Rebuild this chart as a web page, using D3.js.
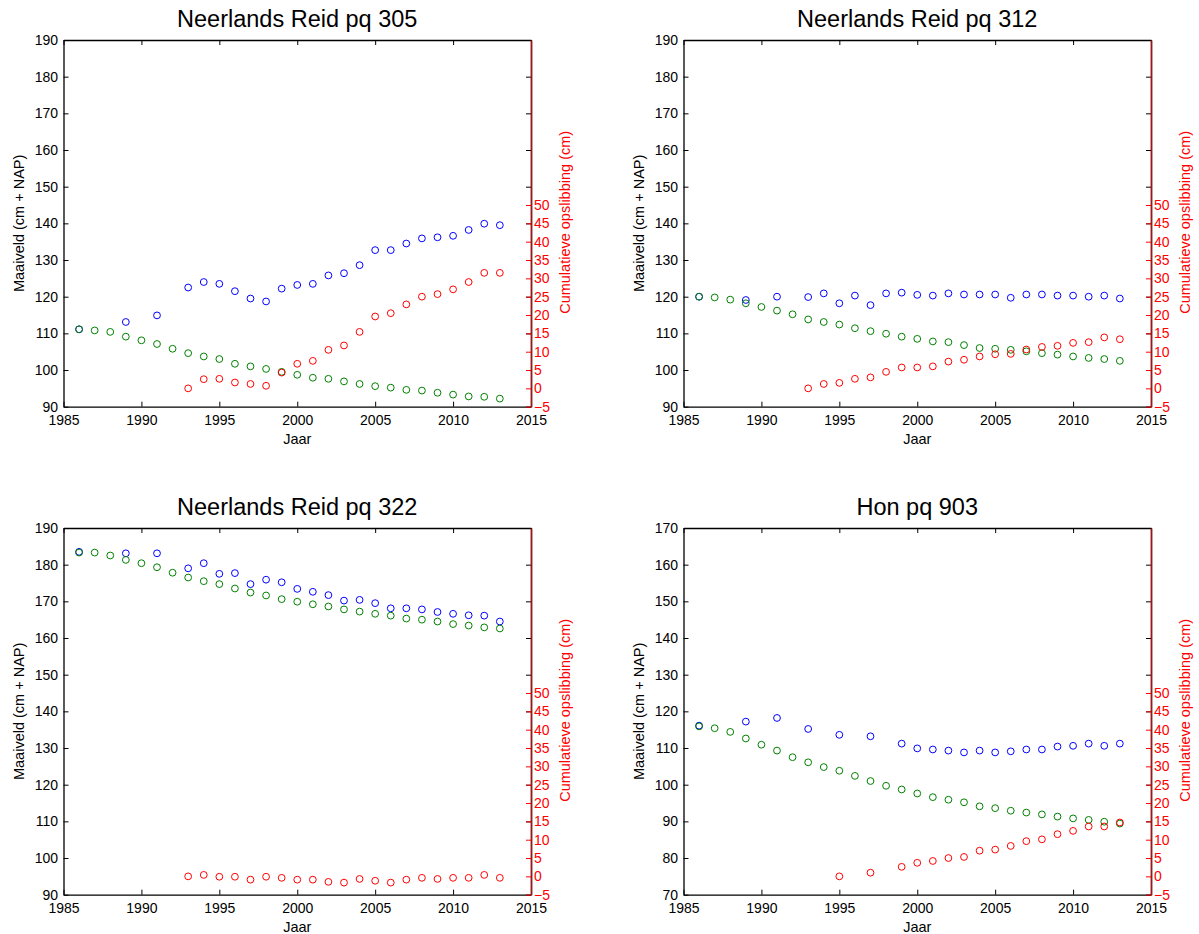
<!DOCTYPE html>
<html>
<head>
<meta charset="utf-8">
<script src="https://cdnjs.cloudflare.com/ajax/libs/d3/7.8.5/d3.min.js"></script>
<style>
  html, body { margin: 0; padding: 0; background: #ffffff; }
  svg { display: block; font-family: "Liberation Sans", Arial, Helvetica, sans-serif; }
</style>
</head>
<body>
<svg id="chart" width="1199" height="934"></svg>
<script>
// ---------- DATA ----------
const titles = ["Neerlands Reid pq 305", "Neerlands Reid pq 312", "Neerlands Reid pq 322", "Hon pq 903"];
const xTicks = [1985, 1990, 1995, 2000, 2005, 2010, 2015];
const leftTicksA = [90, 100, 110, 120, 130, 140, 150, 160, 170, 180, 190];
const leftTicksB = [70, 80, 90, 100, 110, 120, 130, 140, 150, 160, 170];
const rightTicks = [-5, 0, 5, 10, 15, 20, 25, 30, 35, 40, 45, 50];

const greenYears = [1986, 1987, 1988, 1989, 1990, 1991, 1992, 1993, 1994, 1995, 1996, 1997, 1998, 1999,
                    2000, 2001, 2002, 2003, 2004, 2005, 2006, 2007, 2008, 2009, 2010, 2011, 2012, 2013];
const blueYears = [1986, 1989, 1991, 1993, 1994, 1995, 1996, 1997, 1998, 1999, 2000, 2001, 2002,
                   2003, 2004, 2005, 2006, 2007, 2008, 2009, 2010, 2011, 2012, 2013];
const redYears = [1993, 1994, 1995, 1996, 1997, 1998, 1999, 2000, 2001, 2002, 2003, 2004, 2005,
                  2006, 2007, 2008, 2009, 2010, 2011, 2012, 2013];
const blueYears903 = [1986, 1989, 1991, 1993, 1995, 1997, 1999, 2000, 2001, 2002, 2003, 2004, 2005,
                      2006, 2007, 2008, 2009, 2010, 2011, 2012, 2013];
const redYears903 = [1995, 1997, 1999, 2000, 2001, 2002, 2003, 2004, 2005, 2006, 2007, 2008, 2009,
                     2010, 2011, 2012, 2013];

// pq 305
const blue305 = [111.1, 113.1, 114.9, 122.5, 124.0, 123.5, 121.5, 119.5, 118.7, 122.2, 123.2, 123.5,
                 125.8, 126.4, 128.6, 132.7, 132.7, 134.5, 135.9, 136.2, 136.6, 138.2, 139.9, 139.5];
const green305 = [111.1, 110.8, 110.4, 109.1, 108.1, 107.1, 105.8, 104.6, 103.7, 103.0, 101.7, 101.0,
                  100.3, 99.5, 98.7, 97.9, 97.6, 96.9, 96.2, 95.6, 95.2, 94.6, 94.4, 93.8, 93.3, 92.8, 92.7, 92.2];
const red305 = [0, 2.5, 2.6, 1.6, 1.2, 0.7, 4.3, 6.7, 7.5, 10.5, 11.7, 15.4, 19.6, 20.5, 22.9, 25.0,
                25.7, 27.0, 29.0, 31.5, 31.5];
// pq 312
const blue312 = [120.0, 119.1, 120.0, 119.9, 120.9, 118.2, 120.3, 117.7, 120.9, 121.1, 120.5, 120.3,
                 120.9, 120.6, 120.6, 120.6, 119.7, 120.6, 120.6, 120.3, 120.3, 120.0, 120.3, 119.5];
const green312 = [120.0, 119.8, 119.2, 118.2, 117.2, 116.2, 115.2, 113.8, 113.1, 112.4, 111.4, 110.6,
                  109.9, 109.1, 108.5, 107.8, 107.6, 106.8, 106.0, 105.8, 105.5, 105.1, 104.6, 104.2,
                  103.7, 103.3, 103.0, 102.5];
const red312 = [0, 1.2, 1.5, 2.6, 3.0, 4.5, 5.7, 5.7, 6.0, 7.3, 7.8, 8.7, 9.3, 9.4, 10.6, 11.3, 11.6,
                12.4, 12.6, 13.9, 13.4];
// pq 322
const blue322 = [183.5, 183.1, 183.1, 179.0, 180.4, 177.5, 177.7, 174.7, 175.9, 175.2, 173.4, 172.6,
                 171.7, 170.2, 170.4, 169.5, 168.1, 168.1, 167.8, 167.1, 166.6, 166.2, 166.1, 164.5];
const green322 = [183.3, 183.3, 182.5, 181.3, 180.4, 179.3, 177.8, 176.5, 175.5, 174.7, 173.5, 172.4,
                  171.6, 170.6, 169.9, 169.2, 168.6, 167.8, 167.2, 166.6, 166.1, 165.3, 165.0, 164.5,
                  163.8, 163.4, 162.9, 162.6];
const red322 = [0, 0.4, -0.1, -0.1, -0.9, -0.1, -0.4, -0.9, -0.9, -1.5, -1.7, -0.7, -1.2, -1.7, -0.9,
                -0.4, -0.7, -0.4, -0.4, 0.4, -0.4];
// pq 903
const blue903 = [116.1, 117.2, 118.2, 115.2, 113.6, 113.2, 111.2, 109.9, 109.6, 109.3, 108.8, 109.3,
                 108.8, 109.1, 109.6, 109.6, 110.4, 110.6, 111.2, 110.6, 111.2];
const green903 = [115.9, 115.4, 114.4, 112.6, 110.9, 109.3, 107.5, 106.1, 104.8, 103.8, 102.4, 101.0,
                  99.7, 98.7, 97.6, 96.6, 95.9, 95.2, 94.1, 93.6, 92.9, 92.4, 91.9, 91.3, 90.8, 90.4, 89.9, 89.4];
const red903 = [0, 1.0, 2.6, 3.7, 4.2, 5.0, 5.3, 7.0, 7.3, 8.3, 9.6, 10.1, 11.5, 12.4, 13.6, 13.6, 14.7];

const leftLabel = "Maaiveld (cm + NAP)";
const rightLabel = "Cumulatieve opslibbing (cm)";
const xLabel = "Jaar";

// ---------- PANELS ----------
const panels = [
  { title: titles[0], lt: leftTicksA, by: blueYears, b: blue305, g: green305, ry: redYears, r: red305, col: 0, row: 0 },
  { title: titles[1], lt: leftTicksA, by: blueYears, b: blue312, g: green312, ry: redYears, r: red312, col: 1, row: 0 },
  { title: titles[2], lt: leftTicksA, by: blueYears, b: blue322, g: green322, ry: redYears, r: red322, col: 0, row: 1 },
  { title: titles[3], lt: leftTicksB, by: blueYears903, b: blue903, g: green903, ry: redYears903, r: red903, col: 1, row: 1 }
];

const svg = d3.select("#chart");
svg.append("rect").attr("width", 1199).attr("height", 934).attr("fill", "#fff");

const plotLefts = [63.5, 683.5];
const plotTops = [40, 528];
const W = 467.5, H = 366.7;
const TL = 5;
const FS_TICK = 14, FS_LAB = 14.5, FS_TITLE = 23.5;
const RED = "#ff0000", DARKRED = "#a31515";

panels.forEach(p => {
  const x0 = plotLefts[p.col], y0 = plotTops[p.row];
  const g = svg.append("g").attr("transform", `translate(${x0},${y0})`);
  const x = d3.scaleLinear().domain([1985, 2015]).range([0, W]);
  const yL = d3.scaleLinear().domain([p.lt[0], p.lt[p.lt.length - 1]]).range([H, 0]);
  const yR = d3.scaleLinear().domain([-5, 95]).range([H, 0]);

  // bottom axis
  const bottom = g.append("g").attr("transform", `translate(0,${H})`)
    .call(d3.axisBottom(x).tickValues(xTicks).tickFormat(d3.format("d")).tickSizeInner(-TL).tickSizeOuter(0).tickPadding(6));
  // top ticks
  const top = g.append("g")
    .call(d3.axisTop(x).tickValues(xTicks).tickFormat("").tickSizeInner(-TL).tickSizeOuter(0));
  // left axis
  const left = g.append("g")
    .call(d3.axisLeft(yL).tickValues(p.lt).tickFormat(d3.format("d")).tickSizeInner(-TL).tickSizeOuter(0).tickPadding(5.5));
  // right-side black ticks of left axis
  const rightBlack = g.append("g").attr("transform", `translate(${W},0)`)
    .call(d3.axisRight(yL).tickValues(p.lt).tickFormat("").tickSizeInner(-TL).tickSizeOuter(0));
  // right red axis
  const right = g.append("g").attr("transform", `translate(${W},0)`)
    .call(d3.axisRight(yR).tickValues(rightTicks).tickFormat(d3.format("d")).tickSizeInner(-TL).tickSizeOuter(0).tickPadding(3));

  [bottom, top, left, rightBlack].forEach(a => {
    a.selectAll(".domain").attr("stroke", "#000").attr("stroke-width", 1.3);
    a.selectAll(".tick line").attr("stroke", "#000").attr("stroke-width", 1);
    a.selectAll("text").attr("fill", "#000").attr("font-size", FS_TICK).attr("font-family", "Liberation Sans, Arial, sans-serif");
  });
  bottom.selectAll("text").attr("dy", "0").attr("y", 18);
  right.selectAll(".domain").attr("stroke", DARKRED).attr("stroke-width", 1.6);
  right.selectAll(".tick line").attr("stroke", RED).attr("stroke-width", 1);
  right.selectAll("text").attr("fill", RED).attr("font-size", FS_TICK).attr("font-family", "Liberation Sans, Arial, sans-serif");

  // markers
  const r = 3.4;
  g.append("g").selectAll("circle").data(p.by.map((yr, i) => [yr, p.b[i]])).join("circle")
    .attr("cx", d => x(d[0])).attr("cy", d => yL(d[1])).attr("r", r)
    .attr("fill", "none").attr("stroke", "#0000ff").attr("stroke-width", 1);
  g.append("g").selectAll("circle").data(greenYears.map((yr, i) => [yr, p.g[i]])).join("circle")
    .attr("cx", d => x(d[0])).attr("cy", d => yL(d[1])).attr("r", r)
    .attr("fill", "none").attr("stroke", "#008000").attr("stroke-width", 1);
  g.append("g").selectAll("circle").data(p.ry.map((yr, i) => [yr, p.r[i]])).join("circle")
    .attr("cx", d => x(d[0])).attr("cy", d => yR(d[1])).attr("r", r)
    .attr("fill", "none").attr("stroke", RED).attr("stroke-width", 1);

  // title
  g.append("text").attr("x", W / 2).attr("y", -13).attr("text-anchor", "middle")
    .attr("font-size", FS_TITLE).attr("fill", "#000").text(p.title);
  // x label
  g.append("text").attr("x", W / 2).attr("y", H + 37).attr("text-anchor", "middle")
    .attr("font-size", FS_LAB).attr("fill", "#000").text(xLabel);
  // left label
  g.append("text").attr("transform", `translate(-39.5,${H / 2}) rotate(-90)`).attr("text-anchor", "middle")
    .attr("font-size", FS_LAB).attr("fill", "#000").text(leftLabel);
  // right label
  g.append("text").attr("transform", `translate(${W + 39},${H / 2 - 1}) rotate(-90)`).attr("text-anchor", "middle")
    .attr("font-size", FS_LAB).attr("fill", RED).text(rightLabel);
});
</script>
</body>
</html>
